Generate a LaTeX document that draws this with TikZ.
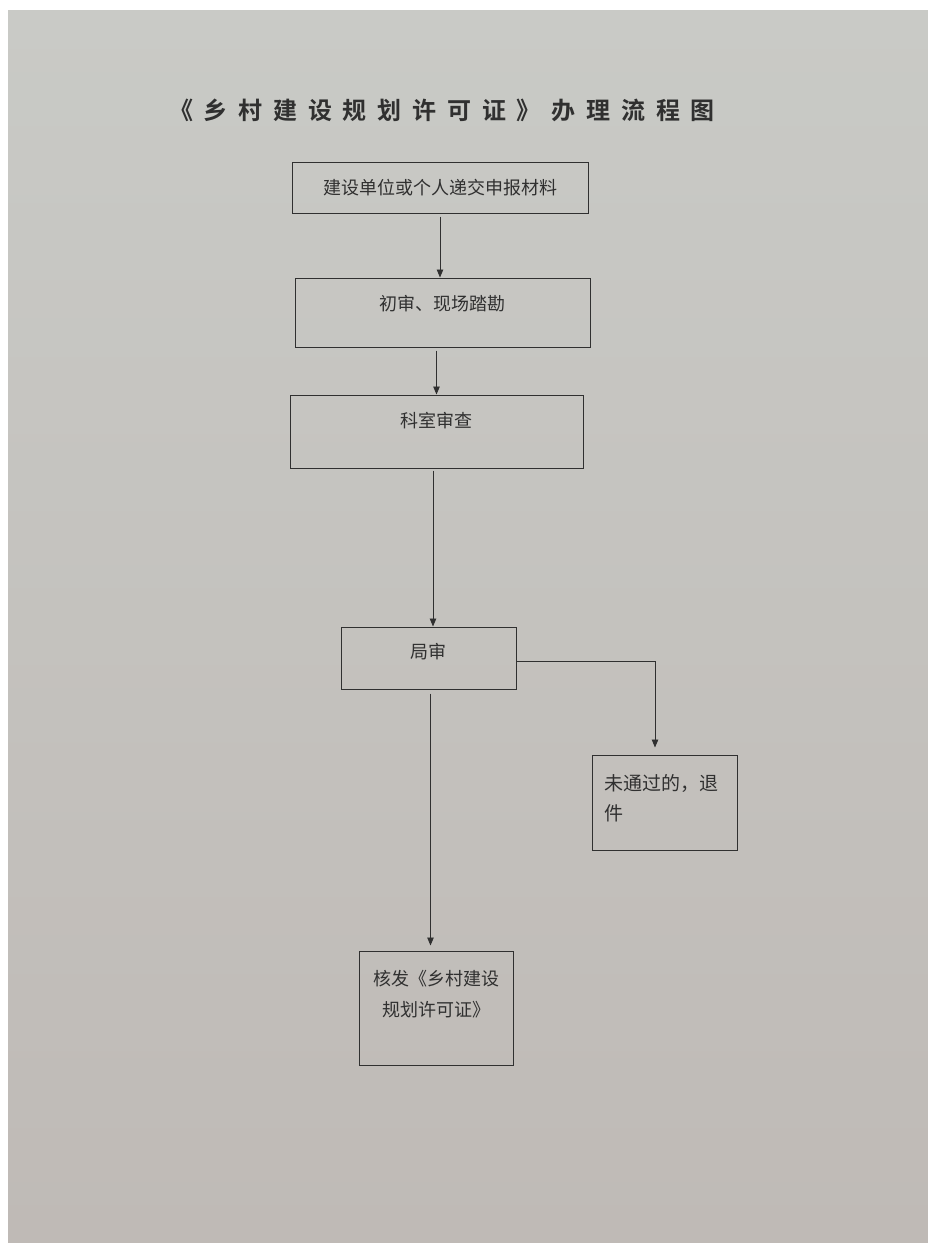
\documentclass[tikz,border=0pt]{standalone}
\usepackage{fontspec}
\setmainfont{Noto Sans CJK SC}
\newfontfamily\titlefont[LetterSpace=45,BoldFont={Noto Sans CJK SC Bold}]{Noto Sans CJK SC}
\usetikzlibrary{arrows.meta,positioning}
\definecolor{paper}{RGB}{201,202,198}
\definecolor{paperlow}{RGB}{191,186,182}
\definecolor{ink}{RGB}{48,48,48}
\tikzset{
  stage/.style={rectangle, draw=ink, line width=1pt, inner sep=0pt, text=ink,
                font=\fontsize{18}{31}\selectfont, anchor=base},
  flow/.style={-{Triangle[length=8pt,width=6.5pt]}, draw=ink, line width=0.9pt},
}

\begin{document}
\begin{tikzpicture}[x=1pt,y=-1pt]
\useasboundingbox (0,0) rectangle (928,1243);
\fill[white] (0,0) rectangle (928,1243);
\shade[top color=paper, bottom color=paperlow] (8,10) rectangle (928,1243);
% title
\node[text=ink, font=\titlefont\bfseries\fontsize{24}{28}\selectfont] (title) at (442,110)
  {《乡村建设规划许可证》办理流程图};
% boxes
\node[stage, minimum width=296pt, text height=32pt, text depth=19pt] (submit) at (440,194) {建设单位或个人递交申报材料};
\node[stage, minimum width=295pt, text height=32pt, text depth=37pt] (survey) at (442.5,310) {初审、现场踏勘};
\node[stage, minimum width=293pt, text height=32pt, text depth=41pt] (office) at (436.5,427) {科室审查};
\node[stage, minimum width=175pt, text height=31pt, text depth=31pt] (bureau) at (428.5,658) {局审};
\node[stage, font=\fontsize{19}{30}\selectfont, text width=121pt, inner xsep=12pt, align=left,
      text height=35pt, text depth=60pt] (reject) at (664.5,790) {未通过的，退\\件};
\node[stage, text width=154pt, align=center, text height=34pt, text depth=80pt] (issue) at (436,985) {核发《乡村建设\\规划许可证》};
% connectors
\draw[flow, shorten <=3pt] (submit.south) -- (submit.south |- survey.north);
\draw[flow, shorten <=3pt] (survey.south -| office.north) -- (office.north);
\draw[flow, shorten <=2pt] ([xshift=-3.5pt]office.south) -- ([xshift=-3.5pt]office.south |- bureau.north);
\draw[flow, shorten >=7pt] ([yshift=-3pt]bureau.east) -| ([xshift=-9.5pt]reject.north);
\draw[flow, shorten <=4pt, shorten >=5pt] ([xshift=2pt]bureau.south) -- ([xshift=2pt]bureau.south |- issue.north);
\end{tikzpicture}
\end{document}
